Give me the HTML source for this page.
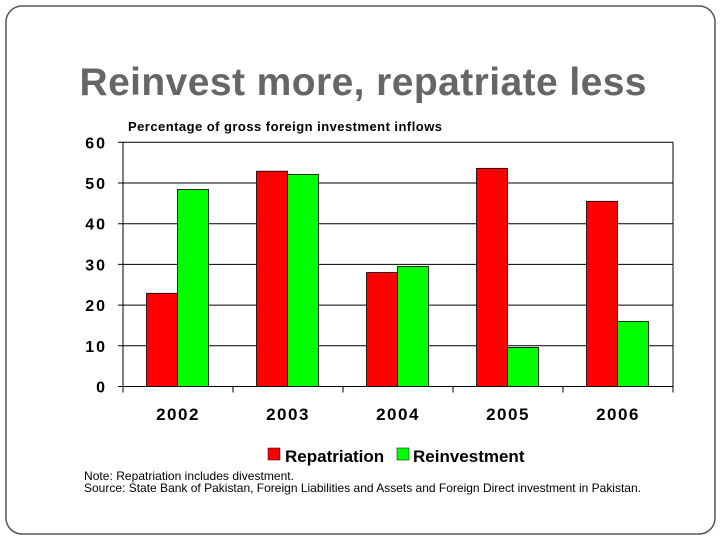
<!DOCTYPE html>
<html><head><meta charset="utf-8"><style>
body{margin:0;width:720px;height:540px;background:#fff;overflow:hidden;font-family:"Liberation Sans",sans-serif}
</style></head><body>
<svg width="720" height="540">
<rect x="6" y="6" width="709" height="528" rx="16" fill="#fff" stroke="#555" stroke-width="1.5"/>
<text x="363" y="95" text-anchor="middle" font-size="39" font-weight="bold" fill="#666" textLength="567">Reinvest more, repatriate less</text>
<text x="128" y="131" font-size="13" font-weight="bold" fill="#000" textLength="314">Percentage of gross foreign investment inflows</text>
<g id="chart"></g>
<rect x="268" y="448" width="12" height="12" fill="#f00" stroke="#000" stroke-width="0.5"/>
<text x="285" y="462" font-size="17" font-weight="bold">Repatriation</text>
<rect x="397" y="448" width="12" height="12" fill="#0f0" stroke="#000" stroke-width="0.5"/>
<text x="413" y="462" font-size="17" font-weight="bold">Reinvestment</text>
<text x="84" y="480" font-size="12" textLength="210">Note: Repatriation includes divestment.</text>
<text x="84" y="492" font-size="12" textLength="557">Source: State Bank of Pakistan, Foreign Liabilities and Assets and Foreign Direct investment in Pakistan.</text>
</svg>
<script>
const categories=["2002","2003","2004","2005","2006"];
const repatriation=[22.9,52.9,28,53.6,45.5];
const reinvestment=[48.4,52.1,29.5,9.6,16];
const yTicks=[0,10,20,30,40,50,60];
const NS="http://www.w3.org/2000/svg";
const g=document.getElementById('chart');
const x0=123,x1=673,y0=386.5,y1=142.3,yMax=60;
const cw=(x1-x0)/categories.length;
function y(v){return y0-(v/yMax)*(y0-y1);}
function xc(i){return x0+cw*i;}
function mk(tag,attrs){const e=document.createElementNS(NS,tag);for(const k in attrs)e.setAttribute(k,attrs[k]);g.appendChild(e);return e;}
yTicks.forEach(t=>{
 const l=mk('line',{x1:x0-5,x2:x1,y1:y(t),y2:y(t),stroke:'#000','stroke-width':1});
 
 
 const tx=mk('text',{x:107,y:y(t)+6,'text-anchor':'end','font-size':16,'font-weight':'bold','letter-spacing':2});
 tx.textContent=t;
 
 
});
const ax=mk('line',{x1:x0,x2:x0,y1:y1,y2:y0,stroke:'#000'});


const rb=mk('line',{x1:x1,x2:x1,y1:y1,y2:y0,stroke:'#000'});


for(let i=0;i<=categories.length;i++){
 const t=mk('line',{x1:xc(i),x2:xc(i),y1:y0,y2:y0+6,stroke:'#000'});
 
 
}
const bw=31;
categories.forEach((c,i)=>{
 const bx=xc(i)+23.5;
 const r=mk('rect',{x:bx,y:y(repatriation[i]),width:bw,height:y0-y(repatriation[i]),fill:'#f00',stroke:'#000','stroke-width':0.8});
 
 
 const gr=mk('rect',{x:bx+bw,y:y(reinvestment[i]),width:bw,height:y0-y(reinvestment[i]),fill:'#0f0',stroke:'#000','stroke-width':0.8});
 
 
 const tx=mk('text',{x:xc(i)+cw/2,y:420,'text-anchor':'middle','font-size':17,'font-weight':'bold','letter-spacing':1.5});
 tx.textContent=c;
 
 
});
</script>
</body></html>
